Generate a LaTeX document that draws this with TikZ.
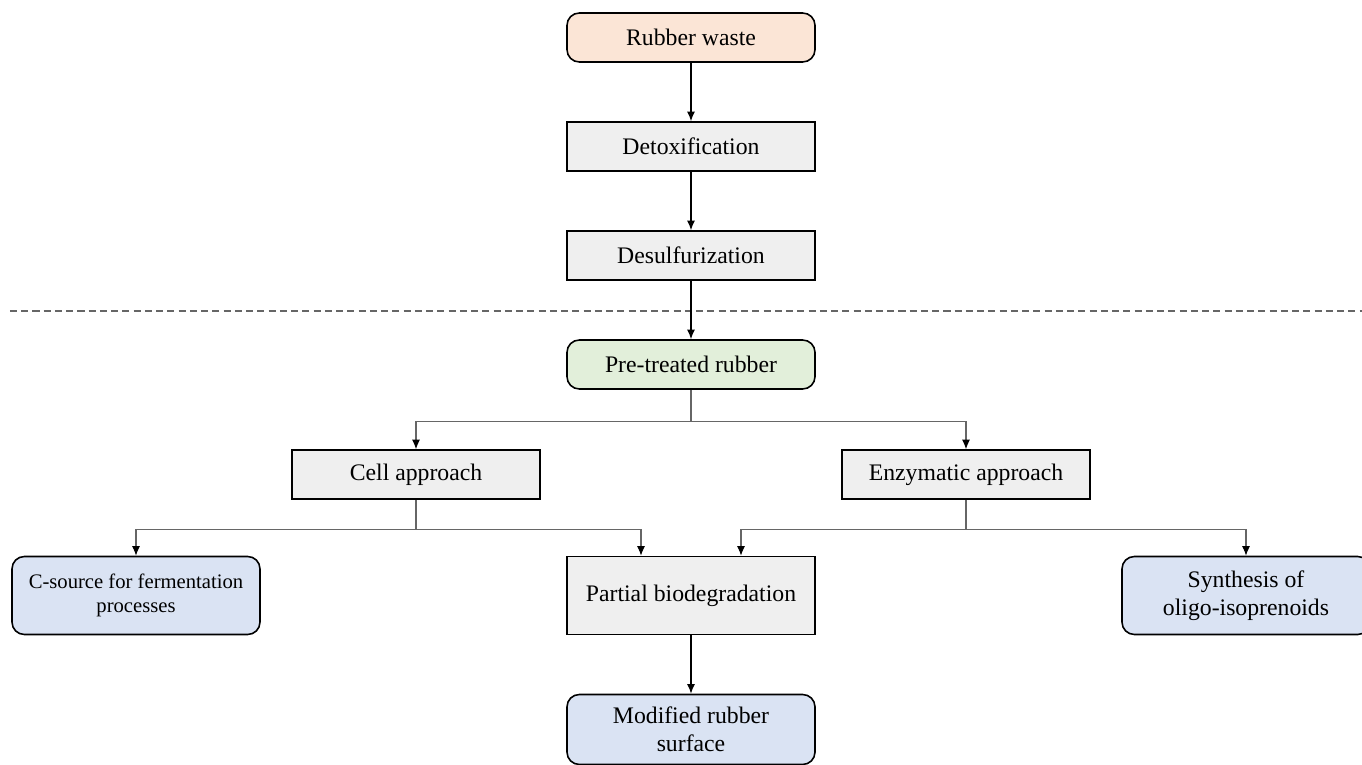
\documentclass[tikz,border=0pt]{standalone}
\usepackage{fontspec}
\setmainfont{Liberation Serif}
\usepackage{xcolor}
\usetikzlibrary{positioning,arrows.meta}

\definecolor{wastefill}{HTML}{FBE5D6}
\definecolor{stepfill}{HTML}{EFEFEF}
\definecolor{prefill}{HTML}{E2EFDA}
\definecolor{endfill}{HTML}{DAE3F3}

\begin{document}
\begin{tikzpicture}[auto,>={Latex[length=5.5pt,width=4.6pt,color=black]},
    every node/.style={on grid,node distance=2.18cm},
    stepbox/.style={draw,line width=0.9pt,fill=stepfill,minimum width=4.96cm,minimum height=0.98cm,
      align=center,font=\fontsize{13.5}{16}\selectfont},
    roundbox/.style={stepbox,rounded corners=7pt},
    tree/.style={draw=black!60,line width=0.6pt},
    flow/.style={->,line width=0.8pt}]
    \useasboundingbox (0,0) rectangle (27.24,-15.3);
    \node[roundbox,fill=wastefill] (waste) at (13.82,-0.75) {Rubber waste};
    \node[stepbox,below of=waste] (detox) {Detoxification};
    \node[stepbox,below of=detox] (desulf) {Desulfurization};
    \node[roundbox,fill=prefill,below of=desulf] (pre) {Pre-treated rubber};
    \node[stepbox,below left=2.2cm and 5.5cm of pre] (cell) {Cell approach};
    \node[stepbox,below right=2.2cm and 5.5cm of pre] (enz) {Enzymatic approach};
    \node[stepbox,minimum height=1.56cm,below=4.62cm of pre] (partial) {Partial biodegradation};
    \node[roundbox,fill=endfill,minimum height=1.56cm,left=11.1cm of partial,
      font=\fontsize{11.75}{14}\selectfont] (csource) {C-source for fermentation\\processes};
    \node[roundbox,fill=endfill,minimum height=1.56cm,right=11.1cm of partial] (synth) {Synthesis of\\oligo-isoprenoids};
    \node[roundbox,fill=endfill,minimum height=1.4cm,below=2.68cm of partial] (modif) {Modified rubber\\surface};
    % boundary between pre-treatment and biological part
    \draw[black!60,line width=0.6pt,dash pattern=on 4pt off 2.4pt] (0.2,-6.22) -- (27.24,-6.22);
    \draw[flow] (waste) -- (detox);
    \draw[flow] (detox) -- (desulf);
    \draw[flow] (desulf) -- (pre);
    \draw[tree] (pre.south) -- ++(0,-0.64) coordinate (split);
    \draw[tree,->] (split) -| (cell.north);
    \draw[tree,->] (split) -| (enz.north);
    \draw[tree] (cell.south) -- ++(0,-0.6) coordinate (cellsplit);
    \draw[tree,->] (cellsplit) -| (csource.north);
    \draw[tree,->] (cellsplit) -| ([xshift=-1cm]partial.north);
    \draw[tree] (enz.south) -- ++(0,-0.6) coordinate (enzsplit);
    \draw[tree,->] (enzsplit) -| ([xshift=1cm]partial.north);
    \draw[tree,->] (enzsplit) -| (synth.north);
    \draw[flow] (partial) -- (modif);
  \end{tikzpicture}
\end{document}
